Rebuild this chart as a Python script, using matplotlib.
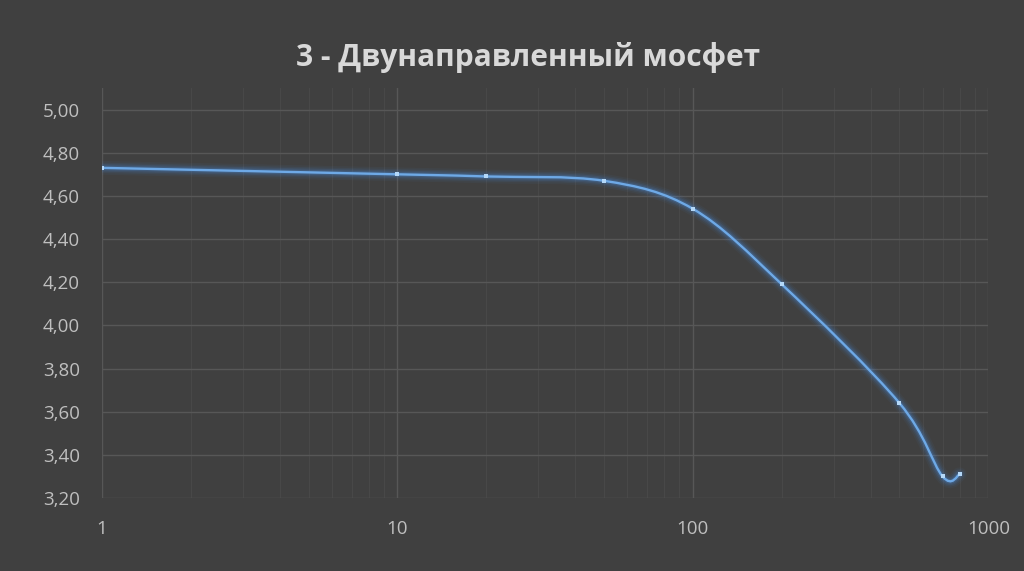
import numpy as np
import matplotlib.pyplot as plt
from matplotlib.path import Path
from matplotlib.patches import PathPatch
from matplotlib.ticker import FixedLocator, FuncFormatter, LogLocator, NullFormatter

x_vals = [1, 10, 20, 50, 100, 200, 500, 700, 800]
y_vals = [4.73, 4.70, 4.69, 4.67, 4.54, 4.19, 3.64, 3.30, 3.31]
y_ticks = [3.2, 3.4, 3.6, 3.8, 4.0, 4.2, 4.4, 4.6, 4.8, 5.0]
x_ticks = [1, 10, 100, 1000]
title = "3 - Двунаправленный мосфет"

bg = '#404040'
plt.rcParams['font.family'] = ['Open Sans', 'DejaVu Sans']


def smooth_path(xs, ys):
	# Catmull-Rom -> cubic bezier in (log x, y) space, like Excel smoothed lines
	u = np.log10(xs)
	v = np.array(ys, dtype=float)
	n = len(u)
	verts = [(xs[0], v[0])]
	codes = [Path.MOVETO]
	for i in range(n - 1):
		i0 = max(i - 1, 0)
		i3 = min(i + 2, n - 1)
		c1u = u[i] + (u[i + 1] - u[i0]) / 6.0
		c1v = v[i] + (v[i + 1] - v[i0]) / 6.0
		c2u = u[i + 1] - (u[i3] - u[i]) / 6.0
		c2v = v[i + 1] - (v[i3] - v[i]) / 6.0
		verts += [(10 ** c1u, c1v), (10 ** c2u, c2v), (xs[i + 1], v[i + 1])]
		codes += [Path.CURVE4] * 3
	return Path(verts, codes)


fig = plt.figure(figsize=(10.24, 5.71), dpi=100, facecolor=bg)
ax = fig.add_axes([0.0996, 0.1278, 0.8656, 0.7181])
ax.set_facecolor(bg)
ax.set_xscale('log')
ax.set_xlim(1, 1000)
ax.set_ylim(3.2, 5.1)

ax.yaxis.set_major_locator(FixedLocator(y_ticks))
ax.yaxis.set_major_formatter(FuncFormatter(lambda v, p: ('%.2f' % v).replace('.', ',')))
ax.xaxis.set_major_locator(FixedLocator(x_ticks))
ax.xaxis.set_major_formatter(FuncFormatter(lambda v, p: '%d' % v))
ax.xaxis.set_minor_locator(LogLocator(base=10, subs=np.arange(2, 10)))
ax.xaxis.set_minor_formatter(NullFormatter())

ax.grid(True, which='major', axis='both', color='#575757', linewidth=1.0)
ax.grid(True, which='minor', axis='x', color='#484848', linewidth=0.8)
ax.set_axisbelow(True)
for s in ax.spines.values():
	s.set_visible(False)
ax.tick_params(axis='both', which='both', length=0, colors='#bfbfbf', labelsize=13.5)
ax.tick_params(axis='x', pad=16)
ax.tick_params(axis='y', pad=16)

path = smooth_path(x_vals, y_vals)
# glow
for lw, a in [(10, 0.05), (7.5, 0.08), (5.5, 0.12), (3.5, 0.2)]:
	ax.add_patch(PathPatch(path, facecolor='none', edgecolor='#4a90e2', linewidth=lw, alpha=a, capstyle='round'))
ax.add_patch(PathPatch(path, facecolor='none', edgecolor='#6ea9e6', linewidth=1.7))
ax.plot(x_vals, y_vals, linestyle='none', marker='s', markersize=3.2, color='#b4d8f8', markeredgewidth=0)

fig.text(0.516, 0.9, title, ha='center', va='center', fontsize=21.5, fontweight='bold', color='#d9d9d9')

fig.savefig('out.png', dpi=100, facecolor=bg)
